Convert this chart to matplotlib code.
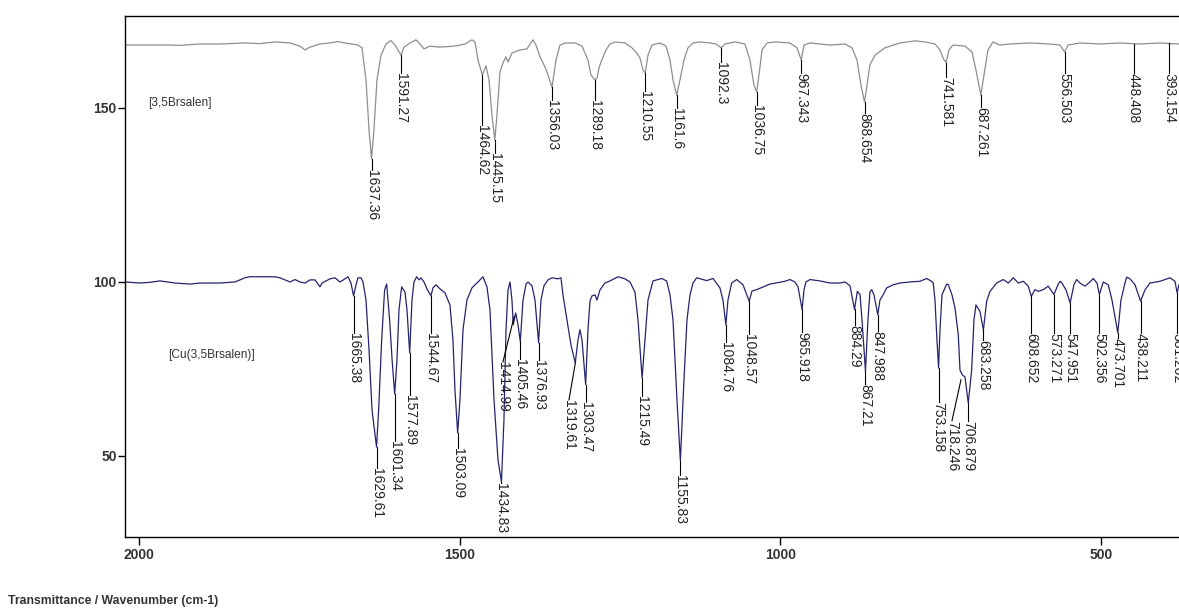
import matplotlib
matplotlib.use('Agg')
import matplotlib.pyplot as plt

plt.rcParams['font.family'] = ['Liberation Sans', 'DejaVu Sans']

# upper trace: [3,5Brsalen] (wavenumber cm-1 / transmittance, offset)
ligand_wn = [2021.8, 1951.7, 1936.1, 1904.9, 1873.7, 1834.7, 1811.3, 1787.9, 1764.5, 1748.9,
             1741.2, 1733.4, 1717.8, 1702.2, 1689.7, 1678.8, 1667.9, 1658.5, 1652.3, 1646.0,
             1641.3, 1637.4, 1633.6, 1628.9, 1622.6, 1614.9, 1607.1, 1600.8, 1591.3, 1586.8,
             1577.4, 1568.1, 1561.8, 1555.6, 1546.2, 1530.6, 1507.3, 1491.7, 1480.8, 1476.1,
             1471.4, 1464.6, 1458.9, 1454.2, 1449.6, 1445.2, 1441.8, 1437.1, 1432.4, 1427.7,
             1424.6, 1418.4, 1405.9, 1395.0, 1385.6, 1381.0, 1374.7, 1366.9, 1362.3, 1356.0,
             1349.8, 1343.5, 1335.7, 1320.1, 1309.2, 1299.9, 1295.2, 1289.2, 1285.8, 1282.7,
             1279.6, 1271.8, 1265.6, 1257.8, 1242.2, 1231.3, 1225.0, 1218.8, 1214.1, 1210.6,
             1206.3, 1200.1, 1187.6, 1178.2, 1172.0, 1167.3, 1161.6, 1156.4, 1150.2, 1143.9,
             1136.1, 1125.2, 1109.6, 1100.3, 1092.3, 1086.3, 1070.7, 1055.1, 1047.3, 1041.1,
             1036.8, 1033.2, 1028.5, 1020.7, 1008.2, 984.9, 974.0, 967.3, 963.1, 953.7,
             922.5, 899.1, 888.2, 880.4, 874.2, 868.7, 864.8, 860.2, 852.4, 836.8,
             813.4, 790.0, 774.4, 758.8, 751.0, 746.3, 741.6, 736.9, 730.7, 712.0,
             701.1, 694.9, 687.3, 682.4, 676.2, 668.4, 657.4, 641.8, 610.7, 579.5,
             563.9, 556.5, 551.4, 532.7, 501.5, 470.3, 439.1, 407.9, 378.3]
ligand_t = [168.0, 168.0, 167.9, 168.3, 168.3, 168.6, 168.4, 168.9, 168.6, 167.7,
            166.6, 167.4, 168.3, 168.6, 169.0, 168.6, 168.3, 168.0, 167.2, 158.0,
            143.6, 135.3, 143.6, 158.0, 165.1, 168.3, 169.3, 168.0, 165.1, 167.4,
            168.6, 169.5, 168.3, 166.9, 167.7, 167.4, 167.7, 168.3, 169.5, 168.9,
            163.7, 159.4, 162.0, 158.0, 147.9, 140.7, 147.9, 160.3, 162.9, 164.6,
            163.1, 165.7, 166.6, 166.9, 169.5, 168.0, 164.6, 161.7, 159.4, 155.9,
            163.7, 168.0, 168.6, 168.6, 167.7, 163.7, 159.4, 158.0, 158.5, 161.4,
            163.1, 166.6, 168.3, 168.9, 168.6, 167.2, 166.0, 164.3, 160.8, 160.0,
            165.1, 168.0, 168.6, 167.7, 163.7, 158.0, 153.6, 158.0, 163.7, 167.2,
            168.6, 168.9, 168.6, 168.3, 167.2, 168.3, 168.9, 168.3, 163.7, 156.5,
            154.5, 159.4, 166.6, 168.6, 168.9, 168.6, 167.2, 163.7, 168.0, 168.6,
            168.0, 168.3, 167.2, 163.7, 156.5, 151.6, 156.5, 162.3, 165.1, 167.2,
            168.6, 169.2, 168.9, 168.3, 166.6, 164.3, 162.9, 166.6, 168.0, 167.7,
            166.0, 160.8, 153.6, 159.4, 166.6, 168.9, 168.0, 168.3, 168.6, 168.3,
            168.0, 166.0, 168.0, 168.6, 168.3, 168.6, 168.3, 168.6, 168.3]

# lower trace: [Cu(3,5Brsalen)]
complex_wn = [2021.8, 1998.4, 1982.8, 1967.3, 1943.9, 1920.5, 1904.9, 1889.3, 1873.7, 1850.3,
              1834.7, 1826.9, 1787.9, 1780.1, 1772.3, 1764.5, 1756.7, 1748.9, 1741.2, 1733.4,
              1725.6, 1717.8, 1714.6, 1702.2, 1694.4, 1686.6, 1678.8, 1674.1, 1669.4, 1665.4,
              1661.6, 1658.5, 1653.8, 1650.7, 1646.0, 1641.3, 1636.6, 1629.6, 1626.3, 1621.6,
              1617.0, 1613.8, 1609.2, 1605.3, 1601.3, 1597.7, 1594.6, 1590.4, 1585.2, 1582.1,
              1577.9, 1574.3, 1571.2, 1567.0, 1563.4, 1560.3, 1555.6, 1550.9, 1544.7, 1541.6,
              1536.9, 1530.6, 1522.9, 1515.1, 1510.4, 1507.3, 1503.1, 1499.5, 1494.8, 1488.6,
              1480.8, 1471.4, 1463.6, 1457.4, 1452.7, 1446.4, 1440.2, 1434.8, 1430.9, 1427.7,
              1424.6, 1421.5, 1418.4, 1416.4, 1412.6, 1409.0, 1405.4, 1401.2, 1396.5, 1393.4,
              1387.2, 1382.5, 1376.9, 1373.2, 1368.5, 1362.3, 1356.0, 1346.7, 1342.0, 1338.9,
              1332.6, 1326.4, 1319.7, 1315.5, 1312.4, 1309.2, 1303.5, 1299.9, 1296.7, 1293.6,
              1288.9, 1285.8, 1281.2, 1273.4, 1265.6, 1253.1, 1242.2, 1234.4, 1226.6, 1221.9,
              1215.5, 1211.0, 1206.3, 1198.5, 1185.0, 1177.2, 1172.0, 1167.3, 1161.1, 1155.8,
              1150.2, 1145.5, 1140.8, 1136.1, 1130.4, 1114.8, 1105.0, 1094.1, 1089.4, 1084.9,
              1081.6, 1075.8, 1068.0, 1058.2, 1048.5, 1044.2, 1036.8, 1016.1, 992.7, 984.9,
              977.2, 972.4, 966.0, 963.1, 960.0, 953.7, 938.1, 922.5, 907.0, 899.1,
              891.3, 884.3, 879.9, 875.7, 872.6, 867.2, 863.3, 860.2, 857.5, 853.9,
              848.0, 844.6, 839.4, 834.1, 823.8, 813.4, 797.8, 782.2, 771.8, 765.0,
              761.5, 758.8, 755.7, 753.2, 751.0, 747.9, 740.5, 738.0, 732.3, 727.6,
              722.5, 719.8, 716.2, 712.0, 706.9, 701.6, 698.0, 694.9, 688.6, 683.3,
              678.2, 673.0, 662.6, 652.3, 644.5, 636.7, 628.9, 621.1, 613.3, 608.7,
              602.9, 597.7, 589.9, 582.2, 573.3, 567.0, 563.9, 560.8, 554.5, 548.0,
              542.1, 537.9, 532.7, 524.9, 517.1, 512.0, 506.2, 502.4, 496.4, 488.6,
              482.8, 473.7, 468.8, 462.5, 459.9, 454.7, 446.9, 438.2, 431.4, 423.6,
              407.9, 400.1, 392.3, 384.6, 381.2, 378.3]
complex_t = [99.9, 99.6, 99.8, 100.2, 99.6, 99.3, 99.6, 99.6, 99.6, 99.9,
             101.1, 101.4, 101.4, 101.1, 100.5, 99.9, 100.6, 99.9, 99.6, 100.5,
             100.5, 98.5, 99.6, 100.8, 101.1, 99.9, 100.8, 101.4, 99.6, 95.9,
             99.1, 101.1, 101.1, 99.9, 94.7, 80.4, 63.1, 52.5, 63.1, 83.2,
             97.6, 99.3, 89.0, 77.5, 67.7, 77.5, 91.9, 98.5, 97.0, 91.9,
             79.5, 94.7, 99.9, 101.4, 100.5, 101.1, 99.9, 97.9, 95.9, 98.2,
             99.1, 97.9, 96.8, 93.3, 83.2, 68.9, 56.5, 66.0, 86.1, 94.7,
             98.2, 99.9, 101.4, 98.5, 91.9, 66.0, 48.8, 42.4, 60.3, 86.1,
             97.6, 99.9, 94.7, 87.6, 91.0, 87.6, 82.8, 94.7, 99.3, 99.9,
             98.8, 94.7, 82.4, 94.7, 98.8, 100.5, 101.1, 100.8, 101.1, 96.2,
             89.0, 81.8, 76.6, 83.2, 86.2, 83.2, 70.4, 86.1, 94.5, 95.9,
             96.2, 94.7, 97.6, 99.6, 100.2, 101.4, 100.8, 99.9, 97.0, 89.0,
             72.3, 83.2, 94.7, 100.2, 100.9, 100.2, 96.2, 89.0, 66.0, 48.5,
             71.8, 89.0, 96.2, 99.6, 101.1, 100.3, 100.9, 98.2, 94.7, 87.6,
             94.7, 99.6, 100.6, 99.1, 94.4, 97.3, 97.7, 99.3, 100.1, 100.6,
             99.9, 98.5, 92.0, 97.6, 99.9, 100.6, 100.2, 99.6, 99.6, 99.9,
             98.8, 92.0, 97.2, 96.3, 89.0, 74.3, 89.0, 97.0, 97.7, 96.2,
             90.5, 94.7, 96.3, 98.2, 99.1, 99.6, 99.9, 100.1, 100.9, 100.2,
             99.6, 94.7, 83.2, 75.2, 86.1, 96.2, 99.3, 99.1, 96.2, 92.4,
             84.8, 74.6, 73.2, 72.6, 65.1, 74.6, 89.0, 93.3, 91.4, 86.1,
             94.4, 97.2, 99.6, 100.6, 99.6, 101.1, 99.6, 100.1, 98.7, 95.8,
             97.7, 97.2, 97.7, 98.7, 96.3, 99.1, 100.1, 99.6, 97.6, 93.9,
             99.1, 100.6, 99.6, 98.7, 99.9, 100.9, 99.6, 96.3, 99.9, 99.1,
             94.7, 85.3, 94.7, 99.6, 101.3, 100.8, 99.1, 94.4, 97.6, 99.6,
             100.1, 100.6, 101.1, 100.1, 96.8, 99.1]

# peak picks: label text, transmittance at the pick, where the label starts
ligand_peaks = ['1637.36', '1591.27', '1464.62', '1445.15', '1356.03', '1289.18',
                '1210.55', '1161.6', '1092.3', '1036.75', '967.343', '868.654',
                '741.581', '687.261', '556.503', '448.408', '393.154']
ligand_peak_t = [135.3, 165.1, 159.4, 140.7, 155.9, 158.0, 160.0, 153.6, 167.2,
                 154.5, 163.7, 151.6, 162.9, 153.6, 166.0, 168.3, 168.6]
ligand_label_t = [132.1, 160.0, 145.0, 137.0, 152.2, 152.2, 154.8, 149.9, 163.1,
                  150.8, 160.0, 148.4, 158.8, 150.2, 160.0, 160.0, 160.0]

complex_peaks = ['1665.38', '1629.61', '1601.34', '1577.89', '1544.67', '1503.09',
                 '1434.83', '1414.99', '1405.46', '1376.93', '1319.61', '1303.47',
                 '1215.49', '1155.83', '1084.76', '1048.57', '965.918', '884.29',
                 '867.21', '847.988', '753.158', '718.246', '706.879', '683.258',
                 '608.652', '573.271', '547.951', '502.356', '473.701', '438.211',
                 '381.202']
complex_peak_t = [95.9, 52.5, 67.7, 79.5, 95.9, 56.5, 42.4, 90.0, 82.8, 82.4,
                  76.6, 70.4, 72.3, 48.5, 87.6, 94.4, 92.0, 92.0, 74.3, 90.5,
                  75.2, 71.8, 65.1, 86.1, 95.8, 96.3, 93.9, 96.3, 85.3, 94.4,
                  96.8]
complex_label_t = [85.3, 46.5, 54.2, 67.4, 85.2, 52.1, 42.0, 76.9, 77.9, 77.5,
                   66.0, 65.5, 67.2, 44.3, 82.6, 84.9, 85.6, 87.5, 70.5, 85.7,
                   65.4, 60.0, 60.0, 83.3, 85.3, 85.2, 85.2, 85.2, 83.8, 85.3,
                   85.3]
# labels that the software pushed sideways
label_shift = {'1414.99': 1432.5, '1319.61': 1329.5, '718.246': 732.3}


def draw_peaks(ax, names, peak_t, label_t):
    for name, pt, lt in zip(names, peak_t, label_t):
        wn = float(name)
        lx = label_shift.get(name, wn)
        ax.plot([wn, lx], [pt, lt], color='black', lw=0.8)
        ax.text(lx, lt, name, rotation=270, ha='center', va='top',
                fontsize=10, color='#222222')


fig = plt.figure(figsize=(11.79, 6.08), dpi=100)
ax = fig.add_axes([125 / 1179, 1 - 537 / 608, 1 - 125 / 1179, 521 / 608])

ax.plot(ligand_wn, ligand_t, color='#8e8e8e', lw=0.9)
ax.plot(complex_wn, complex_t, color='#24246e', lw=0.9)
draw_peaks(ax, ligand_peaks, ligand_peak_t, ligand_label_t)
draw_peaks(ax, complex_peaks, complex_peak_t, complex_label_t)

# sample names (the original uses a narrow display face)
ax.text(1986, 151.3, '[3,5Brsalen]', fontsize=8.6, color='#333333',
        va='center', ha='left')
ax.text(1955, 78.8, '[Cu(3,5Brsalen)]', fontsize=8.6, color='#333333',
        va='center', ha='left')

ax.set_xlim(2021.8, 378.3)
ax.set_ylim(26.6, 176.35)
ax.set_xticks([2000, 1500, 1000, 500])
ax.set_yticks([50, 100, 150])
ax.spines['right'].set_visible(False)
for s in ['left', 'top', 'bottom']:
    ax.spines[s].set_linewidth(1.0)
ax.tick_params(axis='y', direction='out', length=5, width=1, pad=1,
               labelsize=10, labelcolor='#333333')
ax.tick_params(axis='x', direction='out', length=6, width=1, pad=2,
               labelsize=10, labelcolor='#333333')
for lab in ax.get_xticklabels() + ax.get_yticklabels():
    lab.set_fontweight('bold')

fig.text(8 / 1179, 1 - 604 / 608, 'Transmittance / Wavenumber (cm-1)',
         fontsize=8.8, fontweight='bold', color='#333333', ha='left', va='baseline')

fig.savefig('out.png', dpi=100)
